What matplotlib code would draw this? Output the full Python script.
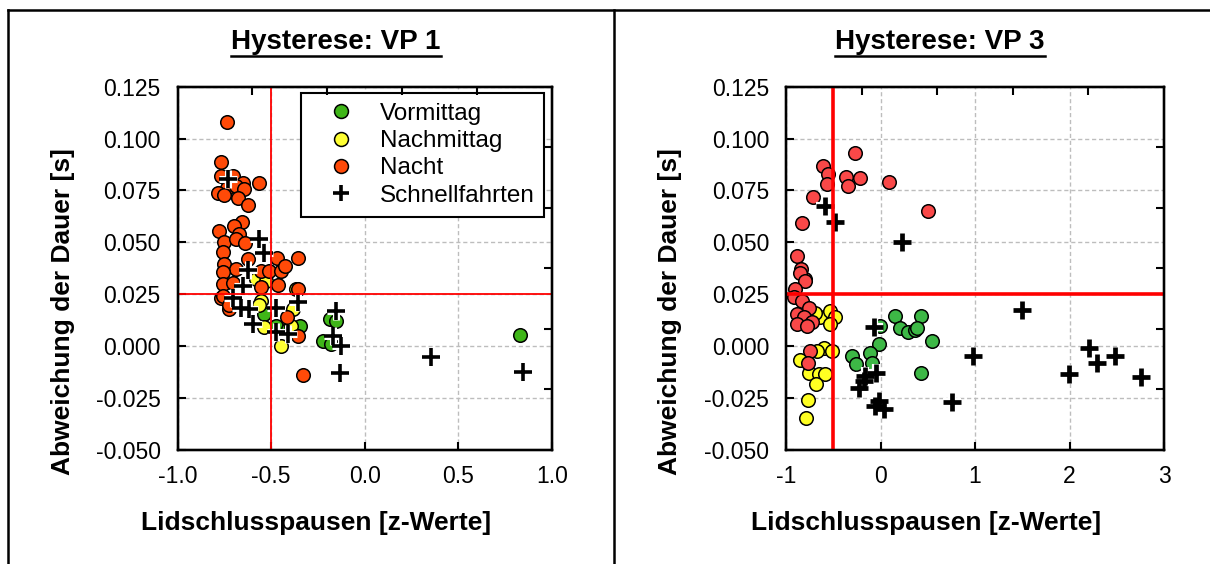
import matplotlib.pyplot as plt
from matplotlib.lines import Line2D

plt.rcParams['font.family'] = ['Liberation Sans', 'DejaVu Sans']
plt.rcParams['axes.unicode_minus'] = False

# VP 1
vp1_vormittag_x = [-0.536, -0.473, -0.348, -0.411, -0.187, -0.152, -0.223, -0.178, 0.830]
vp1_vormittag_y = [0.0153, 0.0096, 0.0096, 0.0080, 0.0129, 0.0120, 0.0024, 0.0008, 0.0053]

vp1_nachmittag_x = [-0.580, -0.527, -0.553, -0.562, -0.366, -0.382, -0.536, -0.446, -0.393]
vp1_nachmittag_y = [0.0321, 0.0313, 0.0217, 0.0196, 0.0276, 0.0177, 0.0089, -0.0003, 0.0096]

vp1_nacht_x = [-0.738, -0.768, -0.768, -0.705, -0.652, -0.566, -0.738, -0.687, -0.643, -0.784,
               -0.750, -0.679, -0.625, -0.655, -0.696, -0.777, -0.670, -0.750, -0.687, -0.637,
               -0.759, -0.625, -0.470, -0.355, -0.750, -0.687, -0.759, -0.553, -0.509, -0.446,
               -0.428, -0.759, -0.705, -0.553, -0.464, -0.356, -0.768, -0.723, -0.416, -0.356,
               -0.329, -0.759, -0.727]
vp1_nacht_y = [0.1081, 0.0886, 0.0819, 0.0819, 0.0787, 0.0784, 0.0763, 0.0771, 0.0755, 0.0736,
               0.0726, 0.0715, 0.0678, 0.0597, 0.0578, 0.0554, 0.0541, 0.0503, 0.0514, 0.0498,
               0.0455, 0.0418, 0.0426, 0.0426, 0.0394, 0.0373, 0.0356, 0.0361, 0.0361, 0.0361,
               0.0385, 0.0297, 0.0305, 0.0286, 0.0292, 0.0273, 0.0233, 0.0180, 0.0137, 0.0048,
               -0.0141, 0.0241, 0.0195]

vp1_schnell_x = [-0.732, -0.566, -0.539, -0.625, -0.652, -0.705, -0.660, -0.616, -0.473, -0.356,
                 -0.598, -0.473, -0.411, -0.155, -0.170, -0.125, -0.134, 0.357, 0.845]
vp1_schnell_y = [0.0806, 0.0517, 0.0447, 0.0365, 0.0289, 0.0233, 0.0185, 0.0180, 0.0185, 0.0212,
                 0.0105, 0.0065, 0.0056, 0.0169, 0.0048, 0.0000, -0.0132, -0.0056, -0.0128]

# VP 3
vp3_vormittag_x = [0.148, 0.427, 0.208, 0.296, 0.366, 0.384, 0.543, -0.003, -0.021, -0.116,
                   -0.302, -0.257, -0.091, 0.427]
vp3_vormittag_y = [0.0145, 0.0145, 0.0088, 0.0069, 0.0076, 0.0088, 0.0024, 0.0097, 0.0008, -0.0032,
                   -0.0048, -0.0088, -0.0081, -0.0129]

vp3_nachmittag_x = [-0.637, -0.531, -0.478, -0.531, -0.690, -0.602, -0.513, -0.672, -0.855, -0.760,
                    -0.655, -0.584, -0.679, -0.771, -0.788]
vp3_nachmittag_y = [0.0137, 0.0169, 0.0137, 0.0105, 0.0161, -0.0008, -0.0024, -0.0024, -0.0069, -0.0129,
                    -0.0137, -0.0134, -0.0185, -0.0263, -0.0347]

vp3_nacht_x = [-0.275, -0.612, -0.555, -0.566, -0.362, -0.348, -0.222, 0.095, -0.718, 0.501,
               -0.830, -0.883, -0.841, -0.795, -0.848, -0.795, -0.901, -0.919, -0.830, -0.760,
               -0.883, -0.813, -0.724, -0.883, -0.777, -0.750, -0.771]
vp3_nacht_y = [0.0932, 0.0867, 0.0827, 0.0779, 0.0814, 0.0769, 0.0811, 0.0790, 0.0717, 0.0653,
               0.0591, 0.0435, 0.0371, 0.0323, 0.0354, 0.0314, 0.0274, 0.0234, 0.0218, 0.0185,
               0.0153, 0.0137, 0.0113, 0.0105, 0.0097, -0.0024, -0.0081]

vp3_schnell_x = [-0.591, -0.478, 0.226, -0.074, -0.162, -0.045, -0.232, -0.172, -0.021, -0.056,
                 0.032, 0.754, 0.982, 1.499, 1.996, 2.204, 2.291, 2.478, 2.760]
vp3_schnell_y = [0.0676, 0.0596, 0.0503, 0.0092, -0.0145, -0.0129, -0.0202, -0.0169, -0.0266, -0.0290,
                 -0.0306, -0.0269, -0.0048, 0.0173, -0.0137, -0.0008, -0.0081, -0.0048, -0.0150]

labels = ['Vormittag', 'Nachmittag', 'Nacht', 'Schnellfahrten']
y_ticks = [-0.05, -0.025, 0.0, 0.025, 0.05, 0.075, 0.1, 0.125]


def draw_panel(ax, groups, schnell, colors, xlim, xticks, xticklabels, line_w, plus_w):
    for (gx, gy), col in zip(groups, colors):
        ax.scatter(gx, gy, s=95, c=col, edgecolors='black', linewidths=1.1, zorder=3)
    sx, sy = schnell
    ax.scatter(sx, sy, s=150, marker='+', c='white', linewidths=plus_w + 2.5, zorder=4)
    ax.scatter(sx, sy, s=150, marker='+', c='black', linewidths=plus_w, zorder=4)
    ax.axvline(-0.5, color='red', lw=line_w, zorder=5)
    ax.axhline(0.025, color='red', lw=line_w, zorder=5)

    ax.set_xlim(*xlim)
    ax.set_ylim(-0.05, 0.125)
    ax.set_xticks(xticks)
    ax.set_xticklabels(xticklabels)
    ax.set_yticks(y_ticks)
    ax.set_yticklabels(['%.3f' % v for v in y_ticks])
    ax.grid(True, color='#bdbdbd', linestyle=(0, (3, 2)), linewidth=1)
    ax.set_axisbelow(True)
    ax.tick_params(direction='in', length=6, width=1.5, labelsize=16.5)
    ax.tick_params(axis='x', pad=11)
    ax.tick_params(axis='y', pad=12)
    for sp in ax.spines.values():
        sp.set_linewidth(1.6)

    ax.set_xlabel('Lidschlusspausen [z-Werte]', fontsize=19, fontweight='bold')
    ax.set_ylabel('Abweichung der Dauer [s]', fontsize=19, fontweight='bold')
    ax.xaxis.set_label_coords(0.37, -0.17)
    ax.yaxis.set_label_coords(-0.275, 0.38)

    # extra ticks on top and right side
    tx = ax.twiny()
    tx.set_xlim(0, 1)
    tx.set_xticks([0.2, 0.4, 0.6, 0.8])
    tx.set_xticklabels([])
    tx.tick_params(direction='in', length=6, width=1.5)
    ty = ax.twinx()
    ty.set_ylim(0, 1)
    ty.set_yticks([1 / 6, 2 / 6, 3 / 6, 4 / 6, 5 / 6])
    ty.set_yticklabels([])
    ty.tick_params(direction='in', length=6, width=1.5)
    for t in (tx, ty):
        for sp in t.spines.values():
            sp.set_linewidth(1.6)


fig = plt.figure(figsize=(12.1, 5.64), dpi=100)

ax1 = fig.add_axes([0.1467, 0.2030, 0.3093, 0.6431])
draw_panel(ax1,
           [(vp1_vormittag_x, vp1_vormittag_y), (vp1_nachmittag_x, vp1_nachmittag_y),
            (vp1_nacht_x, vp1_nacht_y)],
           (vp1_schnell_x, vp1_schnell_y),
           ['#3fb618', '#ffff33', '#ff4a08'],
           (-1, 1), [-1, -0.5, 0, 0.5, 1], ['-1.0', '-0.5', '0.0', '0.5', '1.0'],
           1.3, 2.6)

handles = [
    Line2D([], [], ls='none', marker='o', ms=10, mfc='#3fb618', mec='black', mew=1.1),
    Line2D([], [], ls='none', marker='o', ms=10, mfc='#ffff33', mec='black', mew=1.1),
    Line2D([], [], ls='none', marker='o', ms=10, mfc='#ff4a08', mec='black', mew=1.1),
    Line2D([], [], ls='none', marker='+', ms=12, color='black', mew=2.6),
]
leg = ax1.legend(handles, labels, loc='upper right', bbox_to_anchor=(0.98, 0.983),
                 fontsize=17.5, frameon=True, fancybox=False, framealpha=1,
                 edgecolor='black', borderpad=0.4, labelspacing=0.22,
                 handlelength=2.5, handletextpad=0.35, borderaxespad=0)
leg.get_frame().set_linewidth(1.5)
leg.set_zorder(10)

ax2 = fig.add_axes([0.6496, 0.2030, 0.3124, 0.6431])
draw_panel(ax2,
           [(vp3_vormittag_x, vp3_vormittag_y), (vp3_nachmittag_x, vp3_nachmittag_y),
            (vp3_nacht_x, vp3_nacht_y)],
           (vp3_schnell_x, vp3_schnell_y),
           ['#3db846', '#ffff22', '#f94848'],
           (-1, 3), [-1, 0, 1, 2, 3], ['-1', '0', '1', '2', '3'],
           2.6, 3.4)

# titles with underline
titles = [fig.text(336 / 1210, 1 - 42 / 564, 'Hysterese: VP 1', ha='center', va='center',
                   fontsize=20, fontweight='bold'),
          fig.text(940 / 1210, 1 - 42 / 564, 'Hysterese: VP 3', ha='center', va='center',
                   fontsize=20, fontweight='bold')]
fig.canvas.draw()
W, H = fig.get_size_inches() * fig.dpi
for t in titles:
    bb = t.get_window_extent()
    yline = (bb.y0 - 1) / H
    fig.add_artist(Line2D([bb.x0 / W, bb.x1 / W], [yline, yline], transform=fig.transFigure,
                          color='black', lw=1.8))

# panel frame
top = 1 - 10 / 564
fig.add_artist(Line2D([8 / 1210, 1], [top, top], transform=fig.transFigure, color='black', lw=1.8))
fig.add_artist(Line2D([8 / 1210, 8 / 1210], [0, top], transform=fig.transFigure, color='black', lw=1.8))
fig.add_artist(Line2D([613.5 / 1210, 613.5 / 1210], [0, top], transform=fig.transFigure,
                      color='black', lw=1.8))

fig.savefig('out.png', dpi=100)
